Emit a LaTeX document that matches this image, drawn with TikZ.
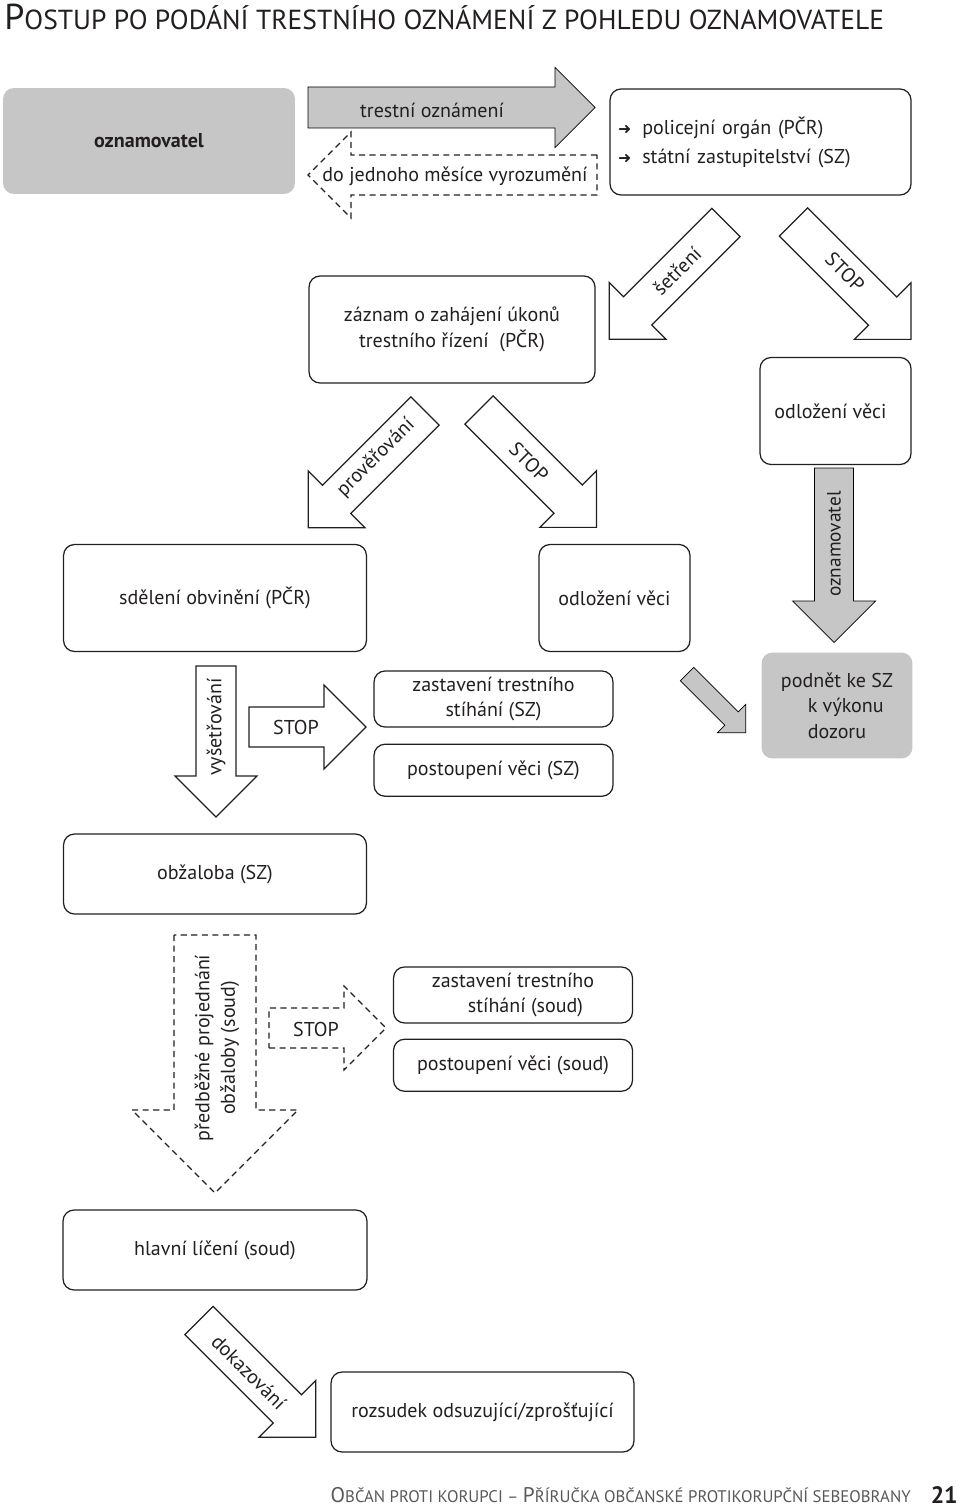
\documentclass[tikz,border=0pt]{standalone}
\usepackage{fontspec}
\setmainfont{PT Sans}
\newfontfamily\dvsans{DejaVu Sans}
\usetikzlibrary{calc,positioning}

\definecolor{boxgray}{HTML}{C6C6C6}
\definecolor{ink}{HTML}{231F20}

% block arrow: style, tail, direction, length, half body, half head
\newcommand{\blockarrow}[6]{%
  \draw[#1] ($(#2)+(#3+90:#5)$) -- ($(#2)+(#3:#4-#6)+(#3+90:#5)$)
    -- ($(#2)+(#3:#4-#6)+(#3+90:#6)$) -- ($(#2)+(#3:#4)$)
    -- ($(#2)+(#3:#4-#6)+(#3-90:#6)$) -- ($(#2)+(#3:#4-#6)+(#3-90:#5)$)
    -- ($(#2)+(#3-90:#5)$) -- cycle;}

\begin{document}
\begin{tikzpicture}[x=0.02cm, y=-0.02cm,
    every node/.style={text=ink, font=\fontsize{11.4}{14.5}\selectfont},
    box/.style={draw=ink, line width=0.7pt, rounded corners=0.22cm, align=center},
    widebox/.style={box, minimum width=6.06cm, minimum height=2.14cm},
    flatbox/.style={box, minimum width=6.06cm, minimum height=1.6cm},
    narrowbox/.style={box, minimum width=3.02cm, minimum height=2.14cm},
    slimbox/.style={box, minimum width=4.78cm, minimum height=1.04cm},
    graybox/.style={fill=boxgray, rounded corners=0.22cm, align=center},
    garrow/.style={fill=boxgray},
    warrow/.style={draw=ink, line width=0.7pt, fill=white},
    darrow/.style={draw=ink, line width=0.7pt, dash pattern=on 3.5pt off 2.5pt}]
  \useasboundingbox (0,0) rectangle (960,1507);

  % Title
  \node[anchor=west, inner sep=0] (title) at (4,17) {\resizebox{17.6cm}{!}{%
    {\fontsize{17}{17}\selectfont P}{\fontsize{13}{13}\selectfont OSTUP PO PODÁNÍ TRESTNÍHO OZNÁMENÍ Z POHLEDU OZNAMOVATELE}}};

  % Place nodes
  \node[graybox, minimum width=5.84cm, minimum height=2.12cm] (oznam) at (149,141) {\bfseries oznamovatel};
  \node[box, minimum width=6.02cm, minimum height=2.12cm, align=left, text width=5.7cm, inner xsep=0.16cm] (organ) at (760.5,142)
    {{\dvsans\fontsize{9}{9}\selectfont ➜}\hspace{0.22cm}policejní orgán (PČR)\\[2pt]{\dvsans\fontsize{9}{9}\selectfont ➜}\hspace{0.22cm}státní zastupitelství (SZ)};
  \node[widebox, minimum width=5.72cm] (zaznam) at (452,329.5) {záznam o zahájení úkonů\\trestního řízení~ (PČR)};
  \node[narrowbox] (odl1) at (835.5,411) {\hspace*{-0.2cm}odložení věci};
  \node[widebox] (obvin) at (215,598) {sdělení obvinění (PČR)};
  \node[narrowbox] (odl2) at (614.5,598) {odložení věci};
  \node[slimbox] (zastsz) at (493.5,699) {zastavení trestního\\stíhání (SZ)};
  \node[slimbox, below=0.32cm of zastsz] (postsz) {postoupení věci (SZ)};
  \node[graybox, minimum width=3.02cm, minimum height=2.12cm] (podnet) at (837,705.5) {podnět ke SZ\\\hspace*{0.35cm}k výkonu\\dozoru};
  \node[flatbox] (obzal) at (215,874) {obžaloba (SZ)};
  \node[slimbox, minimum height=1.06cm] (zastsoud) at (513,995) {zastavení trestního\\\hspace*{0.5cm}stíhání (soud)};
  \node[slimbox, below=0.3cm of zastsoud] (postsoud) {postoupení věci (soud)};
  \node[flatbox, minimum width=6.08cm] (hlavni) at (215,1250) {hlavní líčení (soud)};
  \node[flatbox] (rozsud) at (482.5,1412) {rozsudek odsuzující/zprošťující};

  % Draw arrows
  \coordinate (t-trestni) at (308,107.5);
  \blockarrow{garrow}{t-trestni}{0}{287}{20.5}{40}
  \node (trestni) at (432,110) {trestní oznámení};
  \coordinate (t-vyroz) at (597,175);
  \blockarrow{darrow}{t-vyroz}{180}{289}{20}{43}
  \node (vyroz) at (455,176) {do jednoho měsíce vyrozumění};

  \coordinate (t-setreni) at (726,222.5);
  \blockarrow{warrow}{t-setreni}{135}{165}{20}{40}
  \node[rotate=45] (setreni) at (677,271) {šetření};
  \coordinate (t-stop1) at (793.5,222);
  \blockarrow{warrow}{t-stop1}{45}{166}{20}{40}
  \node[rotate=-45] (stop1) at (845,272) {STOP};

  \coordinate (t-prover) at (425,411);
  \blockarrow{warrow}{t-prover}{135}{165}{20}{40}
  \node[rotate=45] (prover) at (376,458) {prověřování};
  \coordinate (t-stop2) at (479,410);
  \blockarrow{warrow}{t-stop2}{45}{166}{20}{40}
  \node[rotate=-45] (stop2) at (529,462) {STOP};

  \coordinate (t-oznam) at (834,468);
  \blockarrow{garrow}{t-oznam}{90}{174.5}{19.5}{41.5}
  \node[rotate=90, font=\fontsize{11}{14}\selectfont] (oznamv) at (834,544) {oznamovatel};

  \coordinate (t-vysetr) at (216,666);
  \blockarrow{warrow}{t-vysetr}{90}{151}{20}{41}
  \node[rotate=90] (vysetr) at (216,727) {vyšetřování};
  \coordinate (t-stop3) at (249,727);
  \blockarrow{warrow}{t-stop3}{0}{117}{20}{42}
  \node (stop3) at (296,727) {STOP};
  \coordinate (t-podnet) at (687,674);
  \blockarrow{garrow}{t-podnet}{45}{83}{9.5}{20}

  \coordinate (t-predb) at (215,935);
  \blockarrow{darrow}{t-predb}{90}{258}{41}{83}
  \node[rotate=90, align=center] (predb) at (217,1048) {předběžné projednání\\obžaloby (soud)};
  \coordinate (t-stop4) at (269,1028);
  \blockarrow{darrow}{t-stop4}{0}{117}{20}{42}
  \node (stop4) at (316,1029) {STOP};

  \coordinate (t-dokaz) at (199,1320.5);
  \blockarrow{warrow}{t-dokaz}{45}{165}{20}{40}
  \node[rotate=-45] (dokaz) at (249,1372) {dokazování};

  % Footer
  \node[anchor=east, inner sep=0, text=ink!75] (footer) at (911,1495) {\resizebox{11.6cm}{!}{%
    {\fontsize{12}{12}\selectfont O}{\fontsize{9.5}{9.5}\selectfont BČAN PROTI KORUPCI – }{\fontsize{12}{12}\selectfont P}{\fontsize{9.5}{9.5}\selectfont ŘÍRUČKA OBČANSKÉ PROTIKORUPČNÍ SEBEOBRANY}}};
  \node[anchor=east, inner sep=0] (page) at (958,1495) {\fontsize{13.5}{13.5}\selectfont\bfseries 21};
\end{tikzpicture}
\end{document}
